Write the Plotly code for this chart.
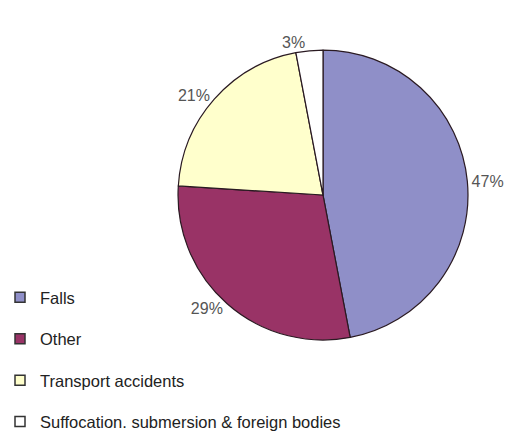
import plotly.graph_objects as go

# Causes of injury, share of cases (%)
labels = ["Falls", "Other", "Transport accidents", "Suffocation. submersion & foreign bodies"]
values = [47, 29, 21, 3]
colors = ["#8f8fc8", "#993366", "#ffffcc", "#ffffff"]

fig = go.Figure()

fig.add_trace(go.Pie(
    labels=labels,
    values=values,
    sort=False,
    direction="clockwise",
    rotation=0,
    marker=dict(colors=colors, line=dict(color="#2a1a22", width=1.2)),
    texttemplate="%{value}%",
    textposition="outside",
    outsidetextfont=dict(family="Liberation Sans, Arial, sans-serif", size=16, color="#555555"),
    showlegend=False,
    hoverinfo="label+percent",
    domain=dict(x=[0.3365, 0.8847], y=[0.2255, 0.886]),
))

# Legend entries drawn as square swatches, one group each for even spacing
for lab, col in zip(labels, colors):
    fig.add_trace(go.Scatter(
        x=[None], y=[None], mode="markers", name=lab, legendgroup=lab,
        marker=dict(symbol="square", size=10, color=col, line=dict(color="#333333", width=1.5)),
    ))

fig.update_layout(
    width=529, height=439,
    margin=dict(l=0, r=0, t=0, b=0),
    paper_bgcolor="white", plot_bgcolor="white",
    xaxis=dict(visible=False), yaxis=dict(visible=False),
    legend=dict(
        x=0.0, y=0.0, xanchor="left", yanchor="bottom",
        bgcolor="rgba(0,0,0,0)",
        font=dict(family="Liberation Sans, Arial, sans-serif", size=16.5, color="#222222"),
        tracegroupgap=17, itemwidth=30,
    ),
)

fig.write_html("out.html")
